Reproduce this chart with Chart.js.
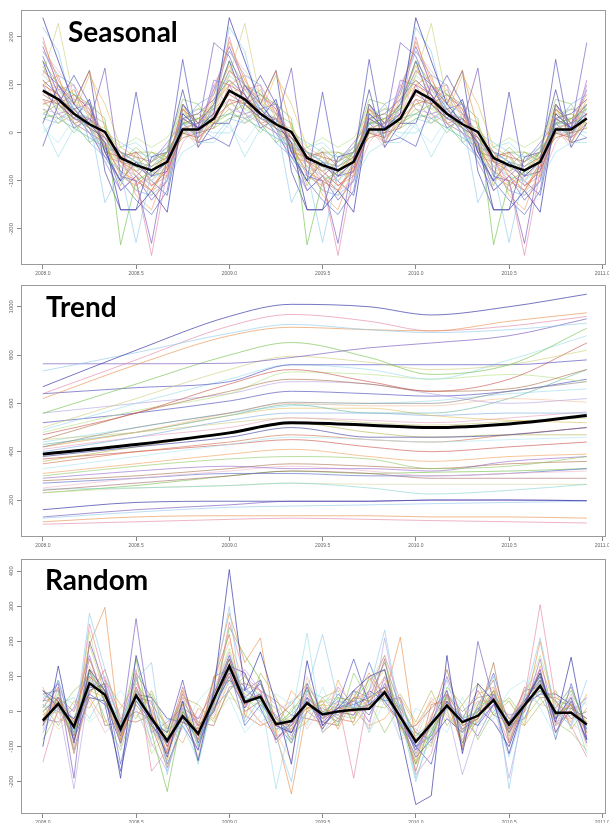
<!DOCTYPE html>
<html>
<head>
<meta charset="utf-8">
<script src="https://cdn.jsdelivr.net/npm/chart.js@4.4.1/dist/chart.umd.min.js"></script>
<style>
  body { margin: 0; background: #fff; width: 609px; height: 823px; overflow: hidden; position: relative; }
  canvas { position: absolute; left: 0; }
  .ttl { position: absolute; font-family: Lato, "Liberation Sans", sans-serif; font-weight: bold; font-size: 28px; line-height: 1; color: #000; white-space: nowrap; }
</style>
</head>
<body>
<canvas id="seasonalChart" width="609" height="283" style="top:0"></canvas>
<canvas id="trendChart" width="609" height="273" style="top:283px"></canvas>
<canvas id="randomChart" width="609" height="267" style="top:556px"></canvas>
<div class="ttl" style="left:68px;top:17px">Seasonal</div>
<div class="ttl" style="left:46px;top:292px">Trend</div>
<div class="ttl" style="left:45px;top:565px">Random</div>
<script>
// monthly time stamps, Jan 2008 .. Dec 2010
const months = [
  2008.000, 2008.083, 2008.167, 2008.250, 2008.333, 2008.417, 2008.500, 2008.583, 2008.667, 2008.750, 2008.833, 2008.917,
  2009.000, 2009.083, 2009.167, 2009.250, 2009.333, 2009.417, 2009.500, 2009.583, 2009.667, 2009.750, 2009.833, 2009.917,
  2010.000, 2010.083, 2010.167, 2010.250, 2010.333, 2010.417, 2010.500, 2010.583, 2010.667, 2010.750, 2010.833, 2010.917
];
const xTicks = [2008.0, 2008.5, 2009.0, 2009.5, 2010.0, 2010.5, 2011.0];

// seasonal component: one value per month (Jan..Dec), same every year
const seasonalMean = [88, 70, 40, 18, 2, -52, -67, -78, -60, 7, 7, 30];
const seasonalSeries = [
  [240, 150, 60, 20, -20, -160, -160, -120, -165, 40, 10, 40],
  [220, 170, 40, 30, -145, -80, -228, -80, -60, 20, -10, 60],
  [190, 110, 60, 130, 10, -40, -90, -120, -60, 50, 20, 80],
  [200, 90, 100, 40, -20, -60, -100, -255, -80, 10, -20, 40],
  [160, 80, 30, 20, 135, -90, -100, -230, -50, 30, 10, 188],
  [150, 100, 80, 60, 30, -233, -100, -80, -40, 20, 30, 50],
  [120, 228, 70, 40, -30, -60, -80, -60, -40, 60, -20, 30],
  [-28, 60, 120, 60, -40, -100, 85, -90, -60, 153, -20, -10],
  [20, -50, 10, -10, -20, -40, -60, -80, -100, -40, -20, -20],
  [100, 80, 40, 30, 0, -60, -80, -110, -80, 0, -10, 20],
  [70, 60, 80, 50, -40, -50, -40, -70, -50, -10, 0, 10],
  [60, 50, 30, 20, 10, -30, -10, -30, -10, 40, 50, 50],
  [90, 70, 50, 10, -10, -60, -70, -90, -60, 10, 0, 30],
  [50, 40, 20, 0, -20, -40, -80, -60, -30, 40, 10, 100],
  [130, 90, 60, 50, -20, -70, -50, -100, -50, 30, -20, 40],
  [40, 30, 10, -10, -30, -40, -60, -70, -40, 20, 20, 30],
  [110, 60, 40, 120, 60, -30, -50, -80, -90, 0, 30, 60],
  [170, 120, 100, -20, -50, -80, -120, -130, -100, 20, 60, 80],
  [80, 100, 70, 60, -10, -60, -90, -120, -100, -20, 20, 50],
  [20, 100, 60, 130, -80, -160, -160, -50, -40, 90, -30, 20],
  [50, 20, 40, 10, -20, -110, -40, -40, -50, 30, 40, 20],
  [10, -20, 30, 20, -60, -70, -50, -100, -60, 30, 50, 30],
  [140, 70, 90, 30, -10, -50, -130, -160, -70, 50, 0, 70],
  [30, 40, 0, 40, 20, -60, -30, -60, -30, 70, 60, 10],
  [60, 70, 20, 30, -30, -80, -100, -120, -70, 30, 10, 30],
  [100, 40, 50, 10, -60, -120, -90, -60, -20, 20, -10, 110],
  [170, 130, 80, 40, 0, -50, -110, -90, -70, 10, -30, 100],
  [130, 100, 40, 0, -50, -100, -140, -170, -120, 50, 20, 60],
  [80, 60, 30, 10, -10, -40, -50, -60, -40, 10, 20, 40],
  [120, 90, 50, 30, -10, -70, -90, -100, -70, 0, 0, 50],
  [60, 90, 40, 10, -30, -80, -70, -130, -60, 40, 30, 20],
  [150, 60, 30, 70, -40, -100, -60, -90, -80, 60, 20, 60],
  [30, 20, 60, 40, 0, -20, -40, -50, -30, 0, 10, -10],
  [100, 120, 20, 0, -20, -90, -110, -80, -50, 20, -10, 60],
  [70, 30, 50, 20, -50, -60, -40, -110, -90, 30, 50, 40],
  [180, 100, 50, 60, -30, -120, -90, -140, -100, 60, 10, 90],
  [40, 60, 20, -20, 0, -50, -70, -40, -60, 20, 30, 20],
  [90, 50, 70, 10, -30, -70, -120, -90, -40, 0, -20, 30],
  [110, 80, 10, 30, -10, -40, -60, -100, -130, 30, 40, 70],
  [0, 30, 40, 10, -40, -30, -20, -50, -70, 20, 10, 0]
];

// trend component, read at these dates
const trendDates = [2008.0, 2008.5, 2009.0, 2009.333, 2009.75, 2010.083, 2010.5, 2010.917];
const trendMean = [390, 430, 478, 520, 510, 500, 515, 550];
const trendSeries = [
  [669, 820, 960, 1010, 1000, 966, 1000, 1052],
  [734, 810, 890, 927, 905, 893, 905, 932],
  [620, 760, 880, 915, 905, 900, 940, 975],
  [640, 780, 920, 968, 940, 900, 920, 960],
  [764, 764, 766, 790, 830, 850, 880, 950],
  [559, 680, 800, 852, 790, 720, 760, 911],
  [500, 620, 740, 795, 770, 740, 760, 820],
  [640, 665, 690, 760, 760, 760, 760, 780],
  [490, 600, 700, 760, 740, 700, 780, 880],
  [470, 560, 680, 740, 690, 650, 700, 850],
  [450, 560, 650, 700, 680, 650, 660, 740],
  [480, 570, 640, 730, 720, 700, 720, 690],
  [420, 500, 560, 605, 600, 600, 650, 690],
  [560, 600, 640, 690, 680, 640, 600, 620],
  [420, 480, 560, 600, 590, 590, 620, 605],
  [430, 480, 550, 595, 560, 560, 620, 740],
  [420, 480, 550, 580, 580, 550, 530, 520],
  [400, 460, 530, 560, 560, 550, 560, 560],
  [410, 460, 500, 540, 530, 520, 540, 565],
  [380, 420, 460, 500, 460, 460, 470, 500],
  [360, 420, 480, 520, 480, 460, 470, 470],
  [330, 380, 430, 460, 450, 440, 450, 460],
  [310, 350, 390, 410, 380, 360, 380, 390],
  [300, 340, 370, 380, 370, 330, 340, 380],
  [350, 400, 440, 470, 450, 440, 470, 500],
  [290, 320, 340, 330, 330, 320, 360, 380],
  [250, 290, 320, 340, 320, 300, 310, 320],
  [270, 290, 310, 310, 300, 300, 310, 330],
  [240, 270, 300, 320, 310, 290, 290, 290],
  [245, 250, 260, 270, 250, 225, 240, 265],
  [230, 250, 260, 270, 265, 265, 265, 265],
  [160, 190, 195, 195, 195, 200, 200, 197],
  [125, 150, 170, 175, 180, 185, 190, 195],
  [110, 130, 135, 135, 135, 130, 130, 125],
  [100, 110, 120, 125, 120, 115, 110, 105],
  [130, 160, 180, 195, 195, 200, 200, 198],
  [230, 260, 300, 320, 310, 315, 320, 330],
  [450, 480, 520, 540, 520, 510, 525, 540],
  [520, 560, 610, 650, 640, 630, 650, 700],
  [440, 500, 560, 590, 600, 610, 640, 660],
  [370, 400, 430, 450, 420, 400, 420, 440],
  [280, 300, 330, 350, 340, 330, 350, 360]
];

// random component, one value per month
const randomMean = [
  -26, 22, -43, 81, 48, -50, 46, -20, -83, -13, -63, 35,
  130, 27, 42, -36, -27, 24, -8, 0, 5, 8, 55, -15,
  -86, -35, 17, -30, -12, 33, -37, 18, 73, -3, -3, -37
];
const randomSeries = [
  [-100, 130, -90, 120, 60, -190, 160, -10, -130, 30, -140, 60, 405, 60, 170, 20, -150, 145, -40, 10, 60, 100, 120, -60, -265, -240, 160, -120, 80, 30, -120, 20, 110, -30, 155, -80],
  [40, 60, -60, 280, 120, -40, 90, 140, -180, 10, -100, 70, 300, -30, 40, -70, -200, 60, 220, 30, 10, 60, 232, -10, -200, -50, 90, -60, 10, 100, -220, 40, 210, 0, -40, 90],
  [-20, 40, -40, 190, 297, -80, 60, 10, -120, 20, -80, 90, 280, 140, 210, -60, -235, 10, 30, -50, 40, 110, 40, 212, -90, -20, 30, -100, -20, 60, -50, 0, 200, -10, 20, -60],
  [-145, 10, -80, 250, 90, -30, 120, -170, -110, 60, -50, 20, 255, 100, 60, -90, -40, 50, -20, 30, -190, 60, 160, 30, -180, -120, 50, -60, -10, 20, -90, 40, 305, 30, -40, -130],
  [30, 80, -190, 200, 70, -60, 265, -40, -90, -20, -110, 50, 160, 40, 80, -20, -60, 30, -30, 10, 30, -10, 80, -20, -110, -30, 60, -110, 200, 30, -60, 20, 120, -60, 30, -80],
  [50, 20, -70, 120, 30, -40, 150, -60, -228, 0, -60, 20, 240, 160, 90, -40, 0, 60, -10, 40, 30, 90, 120, -30, -150, -60, 50, -90, 0, 60, -40, 20, 110, -10, 60, -40],
  [-10, 0, -60, 190, 50, -80, 100, -30, -140, 60, -100, 10, 140, 50, 30, -20, -50, 20, 0, 10, -20, 40, 60, -30, -140, -40, 40, -50, -30, 40, -60, 10, 90, -20, 20, -60],
  [60, 10, -20, 50, 20, -170, 30, -30, -60, 90, -90, 10, 100, 10, 90, -40, -60, 40, -50, 20, 150, 20, 60, -40, -100, -150, 30, -20, -40, 20, -30, 30, 100, -20, 40, -90],
  [10, 90, -40, 90, 70, -20, 40, -60, -70, -40, -140, 30, 80, 60, 50, -220, -20, 224, -60, 0, 20, 50, 40, 20, -90, -30, 20, -20, 30, 10, -130, 10, 80, 0, -40, 40],
  [-30, 30, -50, 100, 60, -60, 40, -10, -100, 0, -70, 40, 110, 20, 50, -40, -30, 30, -10, 10, 0, 20, 50, -20, -80, -40, 20, -30, -10, 40, -40, 20, 70, -10, 0, -30],
  [-40, 40, -30, 150, 30, -70, 20, -40, -160, -30, -50, 50, 150, 0, 30, -30, -40, 10, 10, -20, 40, 30, 70, 0, -170, -20, 120, -40, -20, 140, -90, 30, 110, -60, 10, -20],
  [0, 50, -80, 230, 40, -30, 60, -120, -60, -20, -80, 60, 180, 30, 20, -70, 10, 30, 30, 40, -20, 80, 160, -50, -120, -60, 0, -70, 20, 30, -70, 40, 160, 20, 30, -60],
  [50, 60, -110, 60, 80, -90, 110, 40, -100, 30, -40, 0, 120, 70, 20, -10, -80, 80, 0, -30, 60, 40, 140, 10, -60, -80, 50, 0, 40, 50, -20, 30, 60, 10, 70, -50],
  [-60, 20, -220, 70, 100, -40, 60, -90, -170, -30, -20, 10, 60, 120, 60, 20, -70, 0, -30, 70, 20, -50, 210, -20, -50, -90, 10, -180, -40, 50, -190, 10, 80, -30, -10, -40],
  [-20, 60, -100, 130, 30, -80, 80, 0, -140, 10, -130, 80, 200, 80, 60, -60, -140, 100, -20, -10, 30, 60, 120, -40, -140, -90, 50, -100, 10, 70, -80, 30, 110, -40, 40, -100],
  [-30, 10, -40, 110, 50, -30, 60, -20, -60, -10, -60, 30, 90, 40, 30, -40, -10, 40, -10, 20, 10, 20, 40, -10, -70, -30, 20, -20, 0, 30, -30, 20, 60, 0, 10, -20],
  [-10, 30, -30, 60, 40, -40, 30, -10, -70, -20, -50, 40, 100, 30, 40, -30, -20, 10, 20, 10, 10, 30, 100, -20, -90, -50, 10, -40, -20, 40, -40, 10, 80, -10, 20, -30],
  [20, 0, -20, 80, 70, -60, 50, -40, -90, 10, -90, 20, 110, 60, 30, -50, -40, 20, 0, 30, 20, 10, 60, -10, -110, -60, 40, -60, -30, 20, -50, 40, 100, -20, 30, -50],
  [-50, 70, -30, 120, 90, -100, 70, -50, -110, 40, -60, 60, 170, 10, 60, -70, -50, 60, -40, 0, 40, 50, 90, -40, -130, -10, 60, -80, 0, 50, -70, 60, 120, -40, 50, -70],
  [0, 40, -60, 70, 60, -70, 70, -30, -120, -10, -80, 30, 150, 30, 50, -40, -60, 30, -20, 10, 20, 40, 70, -20, -100, -40, 30, -50, -20, 50, -50, 30, 90, -20, 20, -50],
  [20, -40, 30, 10, 90, 20, -20, 60, -50, 40, 20, -30, 60, -20, 110, 40, -60, -30, 40, 60, -40, 20, 10, 50, -30, 60, -40, 20, 80, -10, 30, -40, 20, 60, -50, 10],
  [-60, 50, 20, -30, 10, 60, 0, -80, -20, -50, 30, 80, 40, -60, -10, 50, 20, -40, 70, -30, 60, -60, 30, -80, 10, -20, -60, 40, -40, -20, 60, 90, 10, -70, 40, 20],
  [70, -20, -40, 40, -30, 10, 80, 20, -40, -90, 10, -20, 90, 20, -30, -60, 60, 10, -50, 90, 0, -40, -20, 40, -40, 30, -10, -60, 50, 70, -20, -40, 130, 20, -30, 50],
  [-80, 0, 60, 100, -20, -110, 30, 50, -60, 20, -100, 10, 60, 100, 40, 10, -90, 0, 20, -40, 110, 30, -60, 20, -60, -100, 70, 20, -80, 0, 40, -20, 40, -30, -60, -110],
  [10, 70, -120, 50, 120, -20, -30, -10, -80, 70, -40, 90, 220, -10, -40, -20, 20, 80, -60, -20, -30, 100, 20, -30, -150, 20, 30, -90, 20, 90, -60, 70, 40, 40, 10, -20],
  [-20, -30, 10, 160, 20, -40, 100, -60, -30, 10, -20, 60, 90, 60, 90, -80, -40, 40, 0, -10, 40, -30, 100, 0, -120, -40, 100, -20, -70, 20, -10, 0, 150, -40, 0, 40],
  [40, 10, -50, 30, -60, -20, 10, -100, -40, 40, -20, -10, 110, 30, -30, 0, 30, -50, 20, 70, -20, 40, 60, -80, -60, 40, -20, -50, 30, -30, -80, 50, 20, 10, -30, -70],
  [-40, 90, -70, 60, 80, -150, 40, 30, -150, -40, -110, 100, 120, -40, 20, -30, -90, 30, -20, 50, 10, 140, 30, 40, -100, -70, 20, -30, 0, 110, -40, -20, 90, -80, 80, -60],
  [30, 40, 0, 120, -40, -30, 0, -20, -80, 50, -30, -40, 70, 80, 60, 30, -10, -20, -30, -40, 60, 10, 150, -50, -40, 10, 50, -20, 60, -10, -30, 60, 70, 30, -20, 0],
  [-20, 20, 40, -20, 60, -60, 90, 0, -50, 30, -150, 40, 160, 40, 0, -40, 30, 60, 40, -10, -20, 30, 30, 10, -190, -60, 10, -10, -40, 60, -60, 0, 60, 30, 20, -120],
  [0, -50, -20, 90, 50, -10, -10, -40, -110, 0, -40, -20, 40, 20, 80, -50, -50, 0, 30, 20, 50, -60, 70, 30, -80, 30, 60, -40, 30, 30, 30, -30, 100, -20, -20, 30],
  [60, 30, -80, 40, 30, -90, 50, 40, -20, -30, -60, 0, 130, 110, 10, -80, -30, 70, -40, 0, -10, 60, 30, -30, -130, -80, -20, -60, 10, -30, -100, 20, 50, 50, 20, -80]
];

const palette = [
  "rgba(60,60,170,0.7)", "rgba(140,200,235,0.6)", "rgba(230,140,70,0.6)", "rgba(225,130,160,0.6)",
  "rgba(120,90,190,0.65)", "rgba(110,190,70,0.6)", "rgba(200,200,110,0.55)", "rgba(80,80,190,0.65)",
  "rgba(150,220,235,0.6)", "rgba(200,80,70,0.6)", "rgba(170,110,70,0.6)", "rgba(180,225,130,0.6)",
  "rgba(130,130,130,0.6)", "rgba(180,160,225,0.6)", "rgba(245,190,150,0.6)", "rgba(100,180,165,0.6)",
  "rgba(225,190,90,0.6)", "rgba(120,170,225,0.6)", "rgba(230,160,190,0.6)", "rgba(70,70,160,0.65)",
  "rgba(180,180,80,0.6)", "rgba(170,230,240,0.6)", "rgba(240,160,90,0.6)", "rgba(140,200,100,0.6)",
  "rgba(210,110,70,0.6)", "rgba(150,100,200,0.6)", "rgba(240,180,200,0.6)", "rgba(90,110,200,0.65)",
  "rgba(160,90,90,0.55)", "rgba(120,210,200,0.55)", "rgba(210,210,150,0.55)"
];

// frame round the plot area and rotated y labels, R style
const framePlugin = {
  id: "frame",
  afterDraw(chart) {
    const { ctx, chartArea: a } = chart;
    const y = chart.scales.y;
    ctx.save();
    ctx.strokeStyle = "#9a9a9a";
    ctx.lineWidth = 1;
    ctx.strokeRect(a.left + 0.5, a.top + 0.5, a.right - a.left - 1, a.bottom - a.top - 1);
    ctx.fillStyle = "#666";
    ctx.font = "6px 'Liberation Sans'";
    ctx.textAlign = "center";
    ctx.textBaseline = "middle";
    y.ticks.forEach(t => {
      ctx.save();
      ctx.translate(a.left - 10, y.getPixelForValue(t.value));
      ctx.rotate(-Math.PI / 2);
      ctx.fillText(String(t.value), 0, 0);
      ctx.restore();
    });
    ctx.restore();
  }
};

function lineSets(xs, mean, series, meanWidth, pick, smooth) {
  const mode = smooth ? "monotone" : "default";
  const sets = [{
    data: xs.map((x, i) => ({ x: x, y: mean[pick(i)] })),
    borderColor: "#000", borderWidth: meanWidth, cubicInterpolationMode: mode
  }];
  series.forEach((s, k) => {
    sets.push({
      data: xs.map((x, i) => ({ x: x, y: s[pick(i)] })),
      borderColor: palette[k % palette.length], borderWidth: 1, cubicInterpolationMode: mode
    });
  });
  return sets;
}

function makeChart(id, datasets, yMin, yMax, yStep, padTop, xHeight) {
  return new Chart(document.getElementById(id).getContext("2d"), {
    type: "line",
    data: { datasets: datasets },
    options: {
      responsive: false,
      animation: false,
      events: [],
      layout: { padding: { top: padTop, right: 3, left: 0, bottom: 0 } },
      elements: { point: { radius: 0 }, line: { tension: 0 } },
      plugins: { legend: { display: false }, tooltip: { enabled: false } },
      scales: {
        x: {
          type: "linear",
          min: 2007.883,
          max: 2011.02,
          afterFit: s => { s.height = xHeight; s.paddingLeft = 0; s.paddingRight = 0; },
          afterBuildTicks: s => { s.ticks = xTicks.map(v => ({ value: v })); },
          border: { display: false },
          grid: { drawOnChartArea: false, tickLength: 4, color: "#888" },
          ticks: {
            font: { size: 5, family: "Liberation Sans" }, color: "#666", padding: 2,
            maxRotation: 0, autoSkip: false,
            callback: v => Number(v).toFixed(1)
          }
        },
        y: {
          min: yMin,
          max: yMax,
          afterFit: s => { s.width = 21; s.paddingTop = 0; s.paddingBottom = 0; },
          border: { display: false },
          grid: { drawOnChartArea: false, tickLength: 4, color: "#888" },
          ticks: { display: false, stepSize: yStep, includeBounds: false }
        }
      }
    },
    plugins: [framePlugin]
  });
}

makeChart("seasonalChart",
  lineSets(months, seasonalMean, seasonalSeries, 2.5, i => i % 12, false),
  -275, 256, 100, 10, 18);
makeChart("trendChart",
  lineSets(trendDates, trendMean, trendSeries, 3, i => i, true),
  47, 1090, 200, 2, 19);
makeChart("randomChart",
  lineSets(months, randomMean, randomSeries, 2.5, i => i, false),
  -292, 435, 100, 3, 9);
</script>
</body>
</html>
